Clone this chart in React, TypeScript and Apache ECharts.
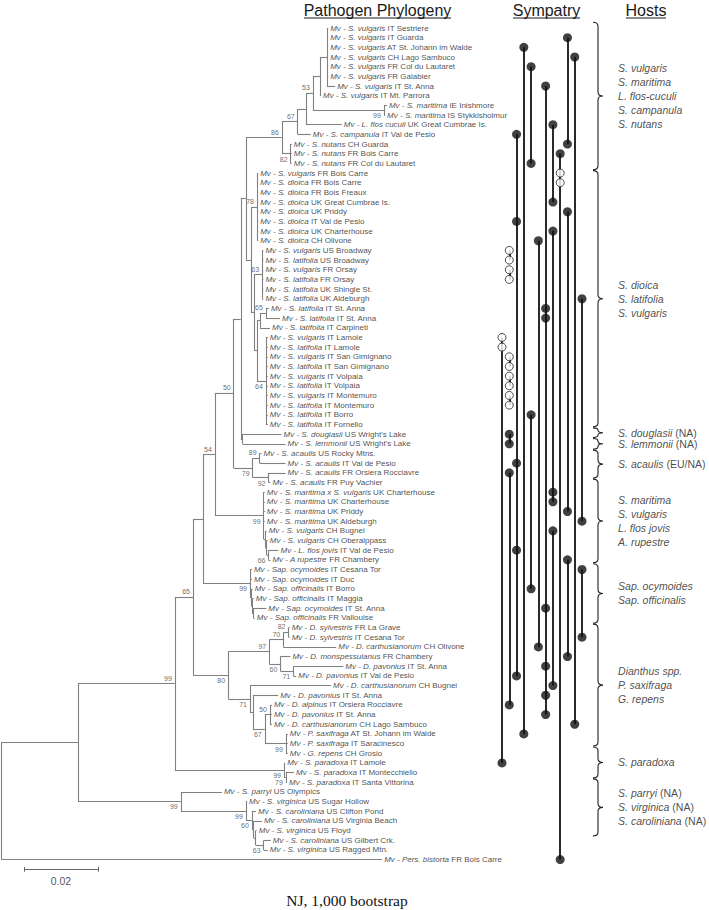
import React, { useEffect, useRef } from "react";
import * as echarts from "echarts";

const FONT = "'Liberation Sans', Arial, Helvetica, sans-serif";
const SERIF = "'Liberation Serif', 'Times New Roman', serif";

// ---------- leaves (row order, top to bottom) ----------
const leafHosts: string[] = [
  "S. vulgaris", "S. vulgaris", "S. vulgaris", "S. vulgaris", "S. vulgaris", "S. vulgaris", "S. vulgaris", "S. vulgaris",
  "S. maritima", "S. maritima", "L. flos cuculi", "S. campanula", "S. nutans", "S. nutans", "S. nutans",
  "S. vulgaris", "S. dioica", "S. dioica", "S. dioica", "S. dioica", "S. dioica", "S. dioica", "S. dioica",
  "S. vulgaris", "S. latifolia", "S. vulgaris", "S. latifolia", "S. latifolia", "S. latifolia",
  "S. latifolia", "S. latifolia", "S. latifolia",
  "S. vulgaris", "S. latifolia", "S. vulgaris", "S. latifolia", "S. vulgaris", "S. latifolia", "S. vulgaris", "S. latifolia",
  "S. latifolia", "S. latifolia",
  "S. douglasii", "S. lemmonii",
  "S. acaulis", "S. acaulis", "S. acaulis", "S. acaulis",
  "S. maritima x S. vulgaris", "S. maritima", "S. maritima", "S. maritima", "S. vulgaris", "S. vulgaris", "L. flos jovis", "A rupestre",
  "Sap. ocymoides", "Sap. ocymoides", "Sap. officinalis", "Sap. officinalis", "Sap. ocymoides", "Sap. officinalis",
  "D. sylvestris", "D. sylvestris", "D. carthusianorum", "D. monspessulanus", "D. pavonius", "D. pavonius",
  "D. carthusianorum", "D. pavonius", "D. alpinus", "D. pavonius", "D. carthusianorum",
  "P. saxifraga", "P. saxifraga", "G. repens",
  "S. paradoxa", "S. paradoxa", "S. paradoxa",
  "S. parryi", "S. virginica", "S. caroliniana", "S. caroliniana", "S. virginica", "S. caroliniana", "S. virginica",
  "Pers. bistorta",
];

const leafSites: string[] = [
  "IT Sestriere", "IT Guarda", "AT St. Johann im Walde", "CH Lago Sambuco", "FR Col du Lautaret", "FR Galabier", "IT St. Anna", "IT Mt. Parrora",
  "IE Inishmore", "IS Stykkisholmur", "UK Great Cumbrae Is.", "IT Val de Pesio", "CH Guarda", "FR Bois Carre", "FR Col du Lautaret",
  "FR Bois Carre", "FR Bois Carre", "FR Bois Freaux", "UK Great Cumbrae Is.", "UK Priddy", "IT Val de Pesio", "UK Charterhouse", "CH Olivone",
  "US Broadway", "US Broadway", "FR Orsay", "FR Orsay", "UK Shingle St.", "UK Aldeburgh",
  "IT St. Anna", "IT St. Anna", "IT Carpineti",
  "IT Lamole", "IT Lamole", "IT San Gimignano", "IT San Gimignano", "IT Volpaia", "IT Volpaia", "IT Montemuro", "IT Montemuro",
  "IT Borro", "IT Fornello",
  "US Wright's Lake", "US Wright's Lake",
  "US Rocky Mtns.", "IT Val de Pesio", "FR Orsiera Rocciavre", "FR Puy Vachier",
  "UK Charterhouse", "UK Charterhouse", "UK Priddy", "UK Aldeburgh", "CH Bugnei", "CH Oberalppass", "IT Val de Pesio", "FR Chambery",
  "IT Cesana Tor", "IT Duc", "IT Borro", "IT Maggia", "IT St. Anna", "FR Vallouise",
  "FR La Grave", "IT Cesana Tor", "CH Olivone", "FR Chambery", "IT St. Anna", "IT Val de Pesio",
  "CH Bugnei", "IT St. Anna", "IT Orsiera Rocciavre", "IT St. Anna", "CH Lago Sambuco",
  "AT St. Johann im Walde", "IT Saracinesco", "CH Grosio",
  "IT Lamole", "IT Montecchiello", "IT Santa Vittorina",
  "US Olympics", "US Sugar Hollow", "US Clifton Pond", "US Virginia Beach", "US Floyd", "US Gilbert Crk.", "US Ragged Mtn.",
  "FR Bois Carre",
];

// ---------- tree topology: internal nodes [id, parent, branch length, bootstrap] ----------
const internalNodes: [string, string, number, number | null][] = [
  ["A", "root", 0.0208, null],
  ["B", "A", 0.0262, 99],
  ["C", "B", 0.0049, 65],
  ["D", "C", 0.0027, null],
  ["E", "D", 0.0032, 54],
  ["F", "E", 0.0051, 50],
  ["G", "F", 0.0019, null],
  ["H", "G", 0.0014, null],
  ["N86", "H", 0.0097, 86],
  ["N67", "N86", 0.0043, 67],
  ["X", "N67", 0.0022, null],
  ["N53", "X", 0.0019, 53],
  ["P", "N53", 0.0019, null],
  ["V", "P", 0.0019, null],
  ["MP", "N53", 0.0192, 99],
  ["NU", "N86", 0.0024, 82],
  ["I", "H", 0.0014, null],
  ["DI", "I", 0.0016, 78],
  ["J", "I", 0.0008, null],
  ["LA", "J", 0.0022, 63],
  ["K", "J", 0.0008, null],
  ["LS", "K", 0.0008, null],
  ["LL", "LS", 0.0016, 65],
  ["IT", "K", 0.0024, 64],
  ["DL", "G", 0.0005, null],
  ["AC", "F", 0.0051, 79],
  ["N89", "AC", 0.0019, 89],
  ["N92", "AC", 0.0043, 92],
  ["MA", "E", 0.0132, 99],
  ["M1", "MA", 0.0005, null],
  ["M2", "M1", 0.0003, null],
  ["M66", "M2", 0.0005, 66],
  ["SA", "D", 0.0127, 99],
  ["S1", "SA", 0.0003, null],
  ["S2", "S1", 0.0003, null],
  ["S3", "S2", 0.0003, null],
  ["DN", "C", 0.0095, 80],
  ["N97", "DN", 0.0111, 97],
  ["N70", "N97", 0.0038, 70],
  ["N82", "N70", 0.0014, 82],
  ["N60", "N97", 0.0030, 60],
  ["N71b", "N60", 0.0035, 71],
  ["N71", "DN", 0.0059, 71],
  ["N252", "N71", 0.0008, null],
  ["N67d", "N252", 0.0032, 67],
  ["N50", "N67d", 0.0014, 50],
  ["SX", "N67d", 0.0057, 99],
  ["PA", "B", 0.0295, 99],
  ["N79p", "PA", 0.0005, 79],
  ["US", "A", 0.0278, 99],
  ["U99", "US", 0.0176, 99],
  ["U60", "U99", 0.0016, 60],
  ["U253", "U60", 0.0005, null],
  ["U255", "U253", 0.0005, null],
  ["U63", "U255", 0.0022, 63],
];

// leaf i -> [parent, branch length]
const leafParents: [string, number][] = [
  ["V", 0.0003], ["V", 0.0003], ["V", 0.0003], ["V", 0.0003], ["V", 0.0003], ["V", 0.0003], ["V", 0.0022], ["P", 0.0003],
  ["MP", 0.0008], ["MP", 0.0003], ["X", 0.0097], ["N67", 0.0035],
  ["NU", 0.0003], ["NU", 0.0003], ["NU", 0.0003],
  ["DI", 0.0003], ["DI", 0.0003], ["DI", 0.0003], ["DI", 0.0003], ["DI", 0.0003], ["DI", 0.0003], ["DI", 0.0003], ["DI", 0.0003],
  ["LA", 0.0003], ["LA", 0.0003], ["LA", 0.0003], ["LA", 0.0003], ["LA", 0.0003], ["LA", 0.0003],
  ["LL", 0.0008], ["LL", 0.0038], ["LS", 0.0027],
  ["IT", 0.0005], ["IT", 0.0005], ["IT", 0.0005], ["IT", 0.0005], ["IT", 0.0005], ["IT", 0.0005], ["IT", 0.0005], ["IT", 0.0005],
  ["IT", 0.0005], ["IT", 0.0005],
  ["DL", 0.0105], ["DL", 0.0116],
  ["N89", 0.0005], ["N89", 0.0070], ["N92", 0.0046], ["N92", 0.0005],
  ["MA", 0.0003], ["MA", 0.0003], ["MA", 0.0003], ["MA", 0.0003], ["M1", 0.0003], ["M2", 0.0003], ["M66", 0.0027], ["M66", 0.0005],
  ["SA", 0.0005], ["SA", 0.0005], ["S1", 0.0004], ["S2", 0.0004], ["S3", 0.0035], ["S3", 0.0004],
  ["N82", 0.0003], ["N82", 0.0003], ["N70", 0.0143], ["N60", 0.0027], ["N71b", 0.0135], ["N71b", 0.0008],
  ["N71", 0.0219], ["N252", 0.0068], ["N50", 0.0005], ["N50", 0.0005], ["N50", 0.0005],
  ["SX", 0.0005], ["SX", 0.0005], ["SX", 0.0005],
  ["PA", 0.0003], ["N79p", 0.0022], ["N79p", 0.0003],
  ["US", 0.0111], ["U99", 0.0003], ["U60", 0.0011], ["U253", 0.0022], ["U255", 0.0003], ["U63", 0.0019], ["U63", 0.0011],
  ["root", 0.1030],
];

const scaleBarLength = 0.02;

// ---------- sympatry: sites shared by several isolates ----------
const sympatryGroups: { site: string; col: number; filled: number[]; open: number[] }[] = [
  { site: "Lamole", col: 0, filled: [77], open: [33, 34] },
  { site: "Broadway", col: 1, filled: [], open: [24, 25] },
  { site: "Orsay", col: 1, filled: [], open: [26, 27] },
  { site: "San Gimignano", col: 1, filled: [], open: [35, 36] },
  { site: "Volpaia", col: 1, filled: [], open: [37, 38] },
  { site: "Montemuro", col: 1, filled: [], open: [39, 40] },
  { site: "Wright's Lake", col: 1, filled: [43, 44], open: [] },
  { site: "Orsiera Rocciavre", col: 1, filled: [47, 71], open: [] },
  { site: "Val de Pesio", col: 2, filled: [12, 21, 46, 55, 68], open: [] },
  { site: "St. Johann im Walde", col: 3, filled: [3, 74], open: [] },
  { site: "Col du Lautaret", col: 4, filled: [5, 15], open: [] },
  { site: "Borro", col: 4, filled: [41, 59], open: [] },
  { site: "Olivone", col: 5, filled: [23, 65], open: [] },
  { site: "St. Anna", col: 6, filled: [7, 30, 31, 61, 67, 70, 72], open: [] },
  { site: "Great Cumbrae", col: 7, filled: [11, 19], open: [] },
  { site: "Charterhouse", col: 7, filled: [22, 49, 50], open: [] },
  { site: "Bugnei", col: 7, filled: [53, 69], open: [] },
  { site: "Bois Carre", col: 8, filled: [14, 87], open: [16, 17] },
  { site: "Guarda", col: 9, filled: [2, 13], open: [] },
  { site: "Priddy", col: 9, filled: [20, 51], open: [] },
  { site: "Chambery", col: 9, filled: [56, 66], open: [] },
  { site: "Lago Sambuco", col: 10, filled: [4, 73], open: [] },
  { site: "Aldeburgh", col: 11, filled: [29, 52], open: [] },
  { site: "Cesana Tor", col: 11, filled: [57, 64], open: [] },
];

// ---------- host groups (brace span in row units) ----------
const hostBraceStart = [0.35, 15.7, 42.3, 43.4, 44.6, 47.6, 56.35, 62.6, 75.3, 78.6];
const hostBraceEnd = [15.7, 42.3, 43.4, 44.6, 47.6, 56.35, 62.6, 75.3, 78.6, 84.6];
const hostNames: string[][] = [
  ["S. vulgaris", "S. maritima", "L. flos-cuculi", "S. campanula", "S. nutans"],
  ["S. dioica", "S. latifolia", "S. vulgaris"],
  ["S. douglasii (NA)"],
  ["S. lemmonii (NA)"],
  ["S. acaulis (EU/NA)"],
  ["S. maritima", "S. vulgaris", "L. flos jovis", "A. rupestre"],
  ["Sap. ocymoides", "Sap. officinalis"],
  ["Dianthus spp.", "P. saxifraga", "G. repens"],
  ["S. paradoxa"],
  ["S. parryi (NA)", "S. virginica (NA)", "S. caroliniana (NA)"],
];

type TN = {
  id: string;
  len: number;
  boot: number | null;
  leaf: number;
  children: TN[];
  parent: TN | null;
  x: number;
  y: number;
};

function buildTree() {
  const map: Record<string, TN> = {};
  map.root = { id: "root", len: 0, boot: null, leaf: 0, children: [], parent: null, x: 0, y: 0 };
  internalNodes.forEach(([id, , len, boot]) => {
    map[id] = { id, len, boot, leaf: 0, children: [], parent: null, x: 0, y: 0 };
  });
  internalNodes.forEach(([id, p]) => {
    map[id].parent = map[p];
    map[p].children.push(map[id]);
  });
  const leaves: TN[] = [];
  leafParents.forEach(([p, len], i) => {
    const n: TN = { id: "L" + (i + 1), len, boot: null, leaf: i + 1, children: [], parent: map[p], x: 0, y: 0 };
    map[p].children.push(n);
    leaves.push(n);
  });
  const layout = (n: TN, px: number) => {
    n.x = px + n.len;
    if (n.leaf) {
      n.y = n.leaf;
    } else {
      n.children.forEach((c) => layout(c, n.x));
      const ys = n.children.map((c) => c.y);
      n.y = (Math.min(...ys) + Math.max(...ys)) / 2;
    }
  };
  layout(map.root, 0);
  return { map, leaves };
}

export default function App() {
  const ref = useRef<HTMLDivElement | null>(null);

  useEffect(() => {
    document.body.style.margin = "0";
    const el = ref.current!;
    const chart = echarts.init(el, null, { renderer: "svg" });

    const { map, leaves } = buildTree();
    const segs: number[][][] = [];
    Object.values(map).forEach((n) => {
      if (n.leaf) return;
      const ys = n.children.map((c) => c.y);
      segs.push([[n.x, Math.min(...ys)], [n.x, Math.max(...ys)]]);
      n.children.forEach((c) => segs.push([[n.x, c.y], [c.x, c.y]]));
    });

    const bootData = Object.values(map)
      .filter((n) => n.boot != null)
      .map((n) => {
        const below = n.parent ? n.y > n.parent.y : false;
        return { value: [n.x, n.y], boot: String(n.boot), label: { offset: [0, below ? 5.5 : -5.5] } };
      });

    const leafData = leaves.map((n) => ({ value: [n.x, n.leaf], idx: n.leaf - 1 }));

    const sb0 = 0.0062;
    const sbRow = 88;

    const symLines: any[] = [];
    const symFilled: number[][] = [];
    const symOpen: number[][] = [];
    sympatryGroups.forEach((g) => {
      const all = [...g.filled, ...g.open];
      symLines.push({ coords: [[g.col, Math.min(...all)], [g.col, Math.max(...all)]] });
      g.filled.forEach((r) => symFilled.push([g.col, r]));
      g.open.forEach((r) => symOpen.push([g.col, r]));
    });

    const braceData = hostBraceStart.map((s, i) => [0, s, hostBraceEnd[i]]);
    const hostData = hostBraceStart.map((s, i) => ({ value: [0, (s + hostBraceEnd[i]) / 2], lines: hostNames[i] }));

    const top = 18.33;
    const rowH = 9.67;
    const yMax = 90;
    const gridH = yMax * rowH;

    const option: any = {
      animation: false,
      backgroundColor: "#ffffff",
      grid: [
        { left: 1, top, width: 0.105 * 3700, height: gridH, outerBoundsMode: "none" },
        { left: 502, top, width: 80, height: gridH, outerBoundsMode: "none" },
        { left: 593, top, width: 20, height: gridH, outerBoundsMode: "none" },
      ],
      xAxis: [
        { gridIndex: 0, type: "value", min: 0, max: 0.105, show: false },
        { gridIndex: 1, type: "value", min: 0, max: 11, show: false },
        { gridIndex: 2, type: "value", min: 0, max: 1, show: false },
      ],
      yAxis: [0, 1, 2].map((i) => ({ gridIndex: i, type: "value", min: 0, max: yMax, inverse: true, show: false })),
      graphic: {
        elements: [
          { type: "text", x: 377.5, y: 10, style: { text: "Pathogen Phylogeny", fontSize: 16, fontFamily: FONT, fill: "#1a1a1a", align: "center", verticalAlign: "middle" } },
          { type: "line", shape: { x1: 304, y1: 18, x2: 451, y2: 18 }, style: { stroke: "#1a1a1a", lineWidth: 1.2 } },
          { type: "text", x: 546.5, y: 10, style: { text: "Sympatry", fontSize: 16, fontFamily: FONT, fill: "#1a1a1a", align: "center", verticalAlign: "middle" } },
          { type: "line", shape: { x1: 513, y1: 18, x2: 580, y2: 18 }, style: { stroke: "#1a1a1a", lineWidth: 1.2 } },
          { type: "text", x: 646, y: 10, style: { text: "Hosts", fontSize: 16, fontFamily: FONT, fill: "#1a1a1a", align: "center", verticalAlign: "middle" } },
          { type: "line", shape: { x1: 626, y1: 18, x2: 666, y2: 18 }, style: { stroke: "#1a1a1a", lineWidth: 1.2 } },
          { type: "text", x: 347, y: 900, style: { text: "NJ, 1,000 bootstrap", fontSize: 15.5, fontFamily: SERIF, fill: "#111", align: "center", verticalAlign: "middle" } },
        ],
      },
      series: [
        {
          type: "lines",
          coordinateSystem: "cartesian2d",
          xAxisIndex: 0,
          yAxisIndex: 0,
          polyline: false,
          silent: true,
          clip: false,
          lineStyle: { color: "#808080", width: 1.1, opacity: 1 },
          data: segs.map((c) => ({ coords: c })),
          z: 2,
        },
        {
          type: "scatter",
          xAxisIndex: 0,
          yAxisIndex: 0,
          symbolSize: 0.1,
          clip: false,
          silent: true,
          itemStyle: { color: "rgba(0,0,0,0)" },
          data: leafData,
          label: {
            show: true,
            position: "right",
            distance: 2,
            fontSize: 8,
            fontFamily: FONT,
            color: "#1a1a1a",
            formatter: (p: any) => `{i|Mv - ${leafHosts[p.data.idx]}} ${leafSites[p.data.idx]}`,
            rich: { i: { fontStyle: "italic", fontSize: 8, fontFamily: FONT, color: "#1a1a1a" } },
          },
          z: 3,
        },
        {
          type: "scatter",
          xAxisIndex: 0,
          yAxisIndex: 0,
          symbolSize: 0.1,
          clip: false,
          silent: true,
          itemStyle: { color: "rgba(0,0,0,0)" },
          data: bootData,
          label: {
            show: true,
            position: "left",
            distance: 3,
            fontSize: 7,
            fontFamily: FONT,
            color: "#444",
            formatter: (p: any) => p.data.boot,
          },
          z: 3,
        },
        {
          type: "lines",
          coordinateSystem: "cartesian2d",
          xAxisIndex: 0,
          yAxisIndex: 0,
          silent: true,
          clip: false,
          lineStyle: { color: "#666", width: 1, opacity: 1 },
          data: [
            { coords: [[sb0, sbRow], [sb0 + scaleBarLength, sbRow]] },
            { coords: [[sb0, sbRow - 0.25], [sb0, sbRow + 0.25]] },
            { coords: [[sb0 + scaleBarLength, sbRow - 0.25], [sb0 + scaleBarLength, sbRow + 0.25]] },
          ],
        },
        {
          type: "scatter",
          xAxisIndex: 0,
          yAxisIndex: 0,
          symbolSize: 0.1,
          clip: false,
          silent: true,
          itemStyle: { color: "rgba(0,0,0,0)" },
          data: [[sb0 + scaleBarLength / 2, sbRow]],
          label: { show: true, position: "bottom", distance: 6, formatter: String(scaleBarLength), fontSize: 10.5, fontFamily: FONT, color: "#222" },
        },
        {
          type: "lines",
          coordinateSystem: "cartesian2d",
          xAxisIndex: 1,
          yAxisIndex: 1,
          silent: true,
          clip: false,
          lineStyle: { color: "#2a2a2a", width: 2, opacity: 1 },
          data: symLines,
          z: 2,
        },
        {
          type: "scatter",
          xAxisIndex: 1,
          yAxisIndex: 1,
          symbol: "circle",
          symbolSize: 9,
          clip: false,
          silent: true,
          itemStyle: { color: "#111" },
          data: symFilled,
          z: 3,
        },
        {
          type: "scatter",
          xAxisIndex: 1,
          yAxisIndex: 1,
          symbol: "circle",
          symbolSize: 8,
          clip: false,
          silent: true,
          itemStyle: { color: "#fff", borderColor: "#222", borderWidth: 1 },
          data: symOpen,
          z: 4,
        },
        {
          type: "custom",
          xAxisIndex: 2,
          yAxisIndex: 2,
          silent: true,
          clip: false,
          data: braceData,
          encode: { x: 0, y: [1, 2] },
          renderItem: (_p: any, api: any) => {
            const a = api.coord([0, api.value(1)]);
            const b = api.coord([0, api.value(2)]);
            const x0 = a[0];
            const y0 = a[1] + 0.5;
            const y1 = b[1] - 0.5;
            const xm = x0 + 5;
            const xt = x0 + 10;
            const ym = (y0 + y1) / 2;
            const r = Math.min(4, (y1 - y0) / 4);
            const d =
              `M${x0},${y0} Q${xm},${y0} ${xm},${y0 + r} L${xm},${ym - r} Q${xm},${ym} ${xt},${ym} ` +
              `Q${xm},${ym} ${xm},${ym + r} L${xm},${y1 - r} Q${xm},${y1} ${x0},${y1}`;
            return { type: "path", shape: { pathData: d }, style: { fill: "none", stroke: "#222", lineWidth: 1.1 } };
          },
        },
        {
          type: "scatter",
          xAxisIndex: 2,
          yAxisIndex: 2,
          symbolSize: 0.1,
          clip: false,
          silent: true,
          itemStyle: { color: "rgba(0,0,0,0)" },
          data: hostData,
          label: {
            show: true,
            position: "right",
            distance: 25,
            fontSize: 10.5,
            lineHeight: 14,
            fontFamily: FONT,
            color: "#1a1a1a",
            align: "left",
            formatter: (p: any) =>
              (p.data.lines as string[])
                .map((ln) => {
                  const m = ln.match(/^(.*?)( \(.*\))?$/)!;
                  return `{i|${m[1]}}${m[2] ? `{n|${m[2]}}` : ""}`;
                })
                .join("\n"),
            rich: {
              i: { fontStyle: "italic", fontSize: 10.5, lineHeight: 14, fontFamily: FONT, color: "#1a1a1a" },
              n: { fontSize: 10.5, lineHeight: 14, fontFamily: FONT, color: "#1a1a1a" },
            },
          },
        },
      ],
    };

    chart.setOption(option);
    return () => chart.dispose();
  }, []);

  return <div ref={ref} style={{ width: 709, height: 910, position: "absolute", left: 0, top: 0, background: "#fff" }} />;
}
